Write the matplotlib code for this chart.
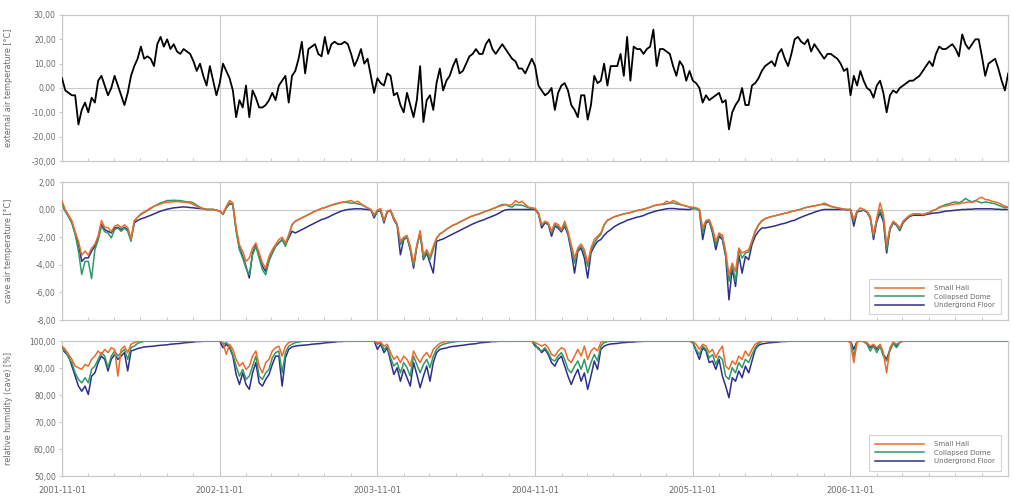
import numpy as np
import pandas as pd
import matplotlib
matplotlib.use('Agg')
import matplotlib.pyplot as plt
import matplotlib.dates as mdates
from matplotlib.ticker import FuncFormatter

# samples: 48 per year starting 2001-11-01
START = pd.Timestamp('2001-11-01')
PER_YEAR = 48

ext_temp = [
    4, -1, -2, -3, -3, -15, -9, -6, -10, -4, -6, 3, 5, 1, -3, 0, 5, 1, -3, -7, -2, 5, 9, 12,
    17, 12, 13, 12, 9, 18, 21, 17, 20, 16, 18, 15, 14, 16, 15, 14, 11, 7, 10, 5, 1, 9, 3, -3,
    2, 10, 7, 4, -1, -12, -5, -8, 1, -12, -1, -4, -8, -8, -7, -5, -2, -5, 1, 3, 5, -6, 5, 7,
    12, 19, 6, 16, 17, 18, 14, 13, 21, 14, 18, 19, 18, 18, 19, 18, 14, 9, 12, 16, 10, 12, 5, -2,
    4, 2, 1, 6, 5, -3, -2, -7, -10, -2, -7, -12, -5, 9, -14, -5, -3, -9, 2, 8, -1, 3, 5, 9,
    12, 6, 7, 10, 13, 14, 16, 14, 14, 18, 20, 16, 14, 16, 18, 16, 14, 12, 11, 8, 8, 6, 9, 12,
    9, 1, -1, -3, -2, 0, -9, -2, 1, 2, -1, -7, -9, -12, -3, -3, -13, -7, 5, 2, 3, 10, 1, 9,
    9, 9, 14, 5, 21, 3, 17, 16, 16, 14, 16, 17, 24, 9, 16, 16, 15, 14, 9, 5, 11, 9, 3, 7,
    3, 2, 0, -6, -3, -5, -4, -3, -2, -6, -5, -17, -10, -7, -5, 0, -7, -7, 1, 2, 4, 7, 9, 10,
    11, 9, 14, 16, 12, 9, 14, 20, 21, 19, 18, 20, 15, 18, 16, 14, 12, 14, 14, 13, 12, 10, 7, 8,
    -3, 5, 1, 7, 3, 0, -1, -4, 1, 3, -2, -10, -3, -1, -2, 0, 1, 2, 3, 3, 4, 5, 7, 9,
    11, 9, 14, 17, 16, 16, 17, 18, 16, 13, 22, 18, 16, 18, 20, 20, 13, 5, 10, 11, 12, 8, 3, -1, 6,
]

cave_small_hall = [
    0.6, 0.0, -0.4, -0.8, -1.6, -2.3, -3.3, -3.0, -3.3, -2.8, -2.5, -1.9, -0.8, -1.3, -1.3, -1.6,
    -1.2, -1.1, -1.3, -1.1, -1.3, -2.1, -0.8, -0.55, -0.3, -0.16, -0.02, 0.13, 0.25, 0.32, 0.42, 0.49,
    0.54, 0.56, 0.56, 0.59, 0.56, 0.54, 0.52, 0.47, 0.37, 0.25, 0.13, 0.06, 0.01, 0.01, 0.01, -0.04,
    -0.11, -0.31, 0.25, 0.66, 0.49, -1.33, -2.54, -3.02, -3.75, -3.51, -2.78, -2.42, -3.14, -3.87, -4.24, -3.39,
    -2.9, -2.54, -2.17, -2.0, -2.42, -1.81, -1.08, -0.84, -0.72, -0.6, -0.48, -0.36, -0.24, -0.11, -0.02, 0.08,
    0.15, 0.25, 0.32, 0.42, 0.47, 0.52, 0.56, 0.61, 0.66, 0.52, 0.61, 0.42, 0.27, 0.13, 0.01, -0.36,
    -0.04, 0.08, -0.79, -0.11, -0.02, -0.6, -1.04, -2.3, -2.0, -1.86, -2.66, -3.87, -2.54, -1.52, -3.27, -2.9,
    -3.39, -2.66, -2.05, -1.76, -1.62, -1.42, -1.28, -1.13, -1.04, -0.91, -0.79, -0.67, -0.55, -0.45, -0.38, -0.31,
    -0.21, -0.11, -0.04, 0.06, 0.15, 0.23, 0.3, 0.37, 0.32, 0.37, 0.66, 0.49, 0.61, 0.37, 0.18, 0.13,
    0.08, -0.24, -1.08, -0.84, -0.96, -1.57, -0.96, -1.08, -1.45, -0.84, -1.57, -2.54, -3.51, -2.78, -2.49, -2.9,
    -3.87, -2.78, -2.17, -1.93, -1.69, -1.08, -0.77, -0.65, -0.53, -0.45, -0.38, -0.31, -0.26, -0.21, -0.14, -0.07,
    -0.02, 0.03, 0.1, 0.18, 0.27, 0.35, 0.37, 0.42, 0.61, 0.49, 0.66, 0.56, 0.42, 0.32, 0.27, 0.18,
    0.18, 0.13, 0.01, -1.33, -0.79, -0.72, -1.33, -2.3, -1.69, -1.86, -3.02, -4.72, -3.87, -4.48, -2.78, -3.14,
    -3.02, -2.9, -2.25, -1.52, -1.08, -0.79, -0.65, -0.57, -0.5, -0.45, -0.38, -0.33, -0.26, -0.21, -0.14, -0.09,
    -0.02, 0.03, 0.13, 0.18, 0.23, 0.27, 0.32, 0.37, 0.47, 0.37, 0.25, 0.18, 0.13, 0.08, 0.03, 0.01,
    0.01, -0.72, -0.11, 0.13, 0.01, -0.11, -0.48, -1.81, -0.6, 0.49, -0.36, -2.54, -1.33, -0.84, -1.04, -1.33,
    -0.84, -0.6, -0.41, -0.31, -0.31, -0.31, -0.36, -0.26, -0.21, -0.07, 0.01, 0.13, 0.23, 0.27, 0.32, 0.37,
    0.42, 0.42, 0.47, 0.52, 0.56, 0.52, 0.61, 0.81, 0.9, 0.73, 0.71, 0.61, 0.56, 0.49, 0.37, 0.25, 0.18,
]

cave_collapsed_dome = [
    0.4, -0.1, -0.5, -0.96, -1.8, -3.0, -4.7, -3.75, -3.75, -5.0, -2.9, -2.2, -1.2, -1.6, -1.7, -2.05,
    -1.45, -1.33, -1.57, -1.33, -1.57, -2.3, -0.84, -0.55, -0.36, -0.21, -0.07, 0.08, 0.23, 0.37, 0.49, 0.56,
    0.66, 0.66, 0.68, 0.66, 0.66, 0.61, 0.56, 0.56, 0.49, 0.32, 0.18, 0.08, 0.01, 0.01, 0.01, -0.04,
    -0.11, -0.36, 0.13, 0.49, 0.37, -1.57, -2.9, -3.51, -4.24, -4.72, -3.27, -2.66, -3.51, -4.36, -4.72, -3.75,
    -3.14, -2.66, -2.42, -2.17, -2.66, -1.93, -1.13, -0.84, -0.72, -0.6, -0.48, -0.36, -0.24, -0.11, -0.02, 0.08,
    0.15, 0.23, 0.32, 0.37, 0.44, 0.52, 0.56, 0.52, 0.47, 0.47, 0.42, 0.37, 0.25, 0.13, 0.01, -0.48,
    -0.04, -0.11, -0.84, -0.11, -0.07, -0.65, -1.08, -2.54, -2.1, -2.0, -2.78, -4.04, -2.66, -1.69, -3.51, -3.02,
    -3.63, -2.9, -2.1, -1.76, -1.62, -1.42, -1.28, -1.13, -1.04, -0.91, -0.79, -0.67, -0.55, -0.45, -0.38, -0.31,
    -0.21, -0.11, -0.04, 0.06, 0.15, 0.27, 0.37, 0.37, 0.25, 0.18, 0.37, 0.32, 0.32, 0.23, 0.13, 0.08,
    0.08, -0.24, -1.13, -0.89, -1.04, -1.69, -1.08, -1.2, -1.52, -1.08, -1.69, -2.78, -3.87, -2.9, -2.66, -3.14,
    -4.11, -2.98, -2.42, -2.05, -1.81, -1.13, -0.79, -0.65, -0.53, -0.45, -0.38, -0.31, -0.26, -0.21, -0.14, -0.07,
    -0.02, 0.03, 0.1, 0.18, 0.27, 0.32, 0.37, 0.37, 0.42, 0.47, 0.49, 0.42, 0.37, 0.32, 0.25, 0.18,
    0.08, 0.08, -0.04, -1.69, -0.84, -0.79, -1.57, -2.54, -1.81, -2.0, -3.27, -5.2, -4.0, -5.2, -2.9, -3.51,
    -3.14, -3.07, -2.3, -1.62, -1.13, -0.84, -0.65, -0.57, -0.5, -0.45, -0.38, -0.33, -0.26, -0.21, -0.14, -0.09,
    -0.02, 0.03, 0.13, 0.18, 0.23, 0.27, 0.32, 0.37, 0.37, 0.32, 0.23, 0.18, 0.13, 0.08, 0.03, 0.01,
    0.01, -0.84, -0.11, -0.07, -0.02, -0.16, -0.55, -1.93, -0.72, 0.01, -0.6, -2.9, -1.37, -0.89, -1.08, -1.45,
    -0.89, -0.65, -0.45, -0.36, -0.31, -0.31, -0.36, -0.31, -0.21, -0.07, 0.01, 0.18, 0.27, 0.37, 0.42, 0.52,
    0.56, 0.49, 0.61, 0.81, 0.66, 0.56, 0.66, 0.56, 0.49, 0.56, 0.52, 0.47, 0.42, 0.32, 0.23, 0.13, 0.18,
]

cave_underground_floor = [
    0.32, -0.1, -0.5, -0.96, -1.7, -2.5, -3.75, -3.5, -3.5, -3.0, -2.66, -2.05, -1.08, -1.45, -1.57, -1.69,
    -1.33, -1.28, -1.45, -1.28, -1.45, -2.17, -0.96, -0.79, -0.67, -0.6, -0.5, -0.41, -0.31, -0.21, -0.11, -0.04,
    0.03, 0.08, 0.13, 0.15, 0.18, 0.2, 0.18, 0.15, 0.13, 0.1, 0.08, 0.06, 0.01, 0.01, 0.01, -0.04,
    -0.11, -0.31, 0.13, 0.42, 0.37, -1.45, -2.78, -3.39, -4.11, -4.96, -3.14, -2.54, -3.39, -4.11, -4.48, -3.63,
    -3.14, -2.66, -2.42, -2.17, -2.54, -2.05, -1.57, -1.69, -1.57, -1.45, -1.33, -1.2, -1.08, -0.96, -0.84, -0.72,
    -0.65, -0.55, -0.43, -0.31, -0.21, -0.11, -0.04, 0.01, 0.03, 0.06, 0.06, 0.06, 0.03, 0.01, -0.02, -0.6,
    -0.11, -0.11, -0.96, -0.16, -0.07, -0.72, -1.13, -3.27, -2.17, -2.0, -2.9, -4.24, -2.66, -1.69, -3.63, -3.14,
    -3.87, -4.6, -2.3, -2.2, -2.13, -2.0, -1.88, -1.76, -1.64, -1.52, -1.4, -1.28, -1.16, -1.04, -0.94, -0.84,
    -0.77, -0.67, -0.57, -0.48, -0.38, -0.26, -0.11, -0.02, 0.01, 0.01, 0.01, 0.01, 0.01, 0.01, 0.01, 0.01,
    0.01, -0.31, -1.33, -0.96, -1.08, -1.93, -1.2, -1.33, -1.62, -1.2, -1.81, -3.02, -4.6, -3.02, -2.78, -3.51,
    -4.96, -3.14, -2.66, -2.3, -2.17, -1.86, -1.62, -1.45, -1.25, -1.11, -0.99, -0.89, -0.77, -0.7, -0.62, -0.55,
    -0.5, -0.43, -0.31, -0.24, -0.16, -0.09, -0.04, 0.01, 0.06, 0.08, 0.08, 0.06, 0.03, 0.03, 0.01, 0.01,
    0.08, 0.08, -0.04, -2.17, -0.96, -0.84, -1.69, -2.9, -1.93, -2.17, -3.39, -6.54, -4.24, -5.57, -3.27, -4.6,
    -3.39, -3.63, -2.54, -1.93, -1.57, -1.33, -1.33, -1.28, -1.23, -1.18, -1.11, -1.04, -0.99, -0.91, -0.82, -0.77,
    -0.65, -0.55, -0.45, -0.36, -0.28, -0.19, -0.11, -0.04, 0.01, 0.01, 0.01, 0.01, 0.01, 0.01, 0.01, -0.02,
    0.01, -1.2, -0.16, -0.11, -0.04, -0.19, -0.6, -2.17, -0.84, -0.24, -0.84, -3.14, -1.45, -0.96, -1.13, -1.52,
    -0.96, -0.7, -0.5, -0.41, -0.41, -0.41, -0.41, -0.36, -0.31, -0.26, -0.24, -0.21, -0.16, -0.11, -0.09, -0.07,
    -0.04, -0.02, 0.01, 0.01, 0.03, 0.03, 0.06, 0.06, 0.06, 0.06, 0.06, 0.06, 0.03, 0.03, 0.01, 0.01, 0.01,
]

rh_small_hall = (
    [98.1, 96.9, 95.0, 93.2, 90.7, 90.1, 89.5, 91.3, 90.7, 93.2, 94.4, 96.3, 95.0, 96.9, 95.7, 97.5,
     96.9, 87.0, 96.9, 98.1, 95.7, 98.8, 99.4, 99.8] + [100.0] * 24
    + [100.0, 99.4, 95.0, 98.8, 96.9, 93.2, 90.7, 92.0, 89.5, 90.7, 94.4, 96.3, 90.7, 88.2, 92.0, 93.2,
       96.3, 97.5, 98.1, 94.4, 98.1, 99.4, 99.8] + [100.0] * 25
    + [99.4, 99.6, 98.1, 98.8, 95.7, 93.2, 94.4, 92.0, 94.4, 93.2, 90.7, 96.3, 93.8, 92.0, 94.4, 95.7,
       93.8, 96.9, 98.1, 99.1, 99.6, 99.9] + [100.0] * 26
    + [99.4, 98.8, 98.1, 98.8, 97.5, 95.0, 94.4, 96.3, 97.5, 96.9, 93.2, 92.0, 94.4, 96.9, 94.4, 98.1,
       93.2, 96.3, 97.5, 96.3, 99.4, 99.9] + [100.0] * 26
    + [99.9, 98.8, 96.9, 98.8, 98.1, 95.7, 96.9, 93.8, 96.3, 98.1, 90.7, 89.5, 92.6, 91.3, 94.4, 93.2,
       96.3, 94.4, 96.9, 98.8, 99.6] + [100.0] * 27
    + [99.4, 92.0, 99.6, 100.0, 100.0, 99.4, 98.1, 98.8, 97.5, 98.8, 95.7, 88.2, 97.5, 99.6, 98.8, 99.6]
    + [100.0] * 33
)

rh_collapsed_dome = (
    [97.5, 96.3, 93.8, 92.0, 88.2, 85.8, 84.5, 86.4, 84.5, 89.5, 90.7, 93.2, 95.7, 94.4, 90.1, 94.4,
     96.3, 94.4, 95.7, 96.9, 93.2, 97.5, 98.1, 99.1, 99.6, 99.9] + [100.0] * 22
    + [100.0, 98.8, 99.4, 98.1, 95.0, 90.7, 87.0, 89.5, 85.8, 87.0, 90.7, 94.4, 87.0, 85.8, 88.2, 89.5,
       93.8, 95.7, 96.3, 88.2, 95.7, 98.1, 98.8, 99.4, 99.6, 99.9] + [100.0] * 22
    + [98.8, 99.4, 96.9, 98.1, 93.8, 90.7, 92.0, 88.2, 92.0, 90.1, 87.0, 94.4, 91.3, 88.2, 91.3, 93.2,
       90.1, 94.4, 96.9, 98.1, 98.8, 99.1, 99.4, 99.6, 99.8, 99.9] + [100.0] * 22
    + [98.8, 96.9, 96.3, 97.5, 95.7, 93.2, 92.6, 94.4, 95.7, 93.2, 89.5, 88.2, 90.7, 92.6, 89.5, 93.2,
       88.2, 92.0, 95.0, 92.6, 98.1, 99.4, 99.8, 99.9] + [100.0] * 24
    + [99.6, 96.9, 95.0, 98.1, 96.9, 93.8, 95.0, 91.3, 94.4, 93.2, 87.0, 85.8, 90.1, 88.2, 92.0, 90.1,
       93.2, 92.0, 95.0, 97.5, 99.1, 99.8] + [100.0] * 26
    + [100.0, 94.4, 99.9, 100.0, 99.8, 98.8, 96.3, 98.1, 95.7, 98.1, 94.4, 92.6, 96.3, 99.1, 97.5, 99.4,
       99.9] + [100.0] * 32
)

rh_underground_floor = (
    [96.9, 95.7, 94.4, 90.7, 87.0, 83.3, 81.4, 83.3, 80.2, 87.0, 88.2, 92.0, 94.4, 93.2, 88.9, 93.2,
     95.0, 93.2, 94.4, 95.7, 88.9, 96.3, 96.7, 97.2, 97.5, 97.8, 97.9, 98.0, 98.1, 98.3, 98.4, 98.5,
     98.6, 98.8, 98.9, 99.0, 99.1, 99.3, 99.4, 99.5, 99.6, 99.8, 99.8, 99.9, 99.9, 100.0, 100.0, 100.0]
    + [99.9, 97.5, 98.8, 97.5, 94.4, 87.6, 83.9, 88.2, 83.9, 82.1, 88.2, 92.0, 84.5, 83.3, 85.8, 87.6,
       91.3, 94.4, 94.4, 83.3, 93.8, 96.9, 97.8, 98.1, 98.3, 98.4, 98.5, 98.6, 98.8, 98.9, 99.0, 99.1,
       99.3, 99.4, 99.5, 99.6, 99.8, 99.8, 99.9, 99.9, 99.9, 99.9, 100.0, 100.0, 100.0, 100.0, 100.0, 100.0]
    + [96.9, 98.8, 95.7, 97.5, 92.6, 87.6, 90.1, 85.1, 89.5, 86.4, 83.3, 92.0, 87.6, 82.7, 87.0, 90.7,
       85.1, 92.0, 95.7, 96.9, 97.2, 97.4, 97.8, 98.0, 98.1, 98.3, 98.4, 98.6, 98.8, 98.9, 99.0, 99.3,
       99.4, 99.5, 99.6, 99.8, 99.8, 99.9, 99.9, 99.9, 99.9, 99.9, 99.9, 100.0, 100.0, 100.0, 100.0, 100.0]
    + [98.1, 97.5, 95.7, 96.9, 95.0, 92.0, 90.7, 93.2, 94.4, 90.7, 87.0, 83.9, 87.0, 89.5, 85.1, 88.2,
       82.1, 87.0, 92.6, 89.5, 96.9, 98.1, 98.6, 98.9, 99.0, 99.1, 99.3, 99.4, 99.5, 99.6, 99.6, 99.8,
       99.8, 99.9, 99.9, 99.9] + [100.0] * 12
    + [99.4, 96.3, 93.2, 97.5, 96.3, 92.0, 92.6, 89.5, 93.2, 87.0, 83.3, 79.0, 86.4, 85.1, 88.9, 86.4,
       90.7, 88.2, 92.6, 96.9, 98.4, 98.9, 99.1, 99.3, 99.4, 99.5, 99.6, 99.8, 99.8, 99.9, 99.9]
    + [100.0] * 17
    + [100.0, 96.9, 99.9, 100.0, 99.9, 99.1, 97.5, 98.4, 96.9, 98.4, 95.0, 93.2, 96.9, 99.4, 98.1, 99.6,
       100.0] + [100.0] * 32
)

year_ticks = ['2001-11-01', '2002-11-01', '2003-11-01', '2004-11-01', '2005-11-01', '2006-11-01']
series_names = ['Small Hall', 'Collapsed Dome', 'Undergrond Floor']
series_colors = ['#ec6a2c', '#2f9a66', '#2d2f8a']

GRID = '#c9c9c9'
TXT = '#6a6a6a'


def sample_dates(n):
    days = np.arange(n) * 365.25 / PER_YEAR
    return START + pd.to_timedelta(days, unit='D')


def comma_fmt(v, pos):
    return f'{v:.2f}'.replace('.', ',')


fig = plt.figure(figsize=(10.15, 4.96), dpi=100)
left, width = 0.0611, 0.932
ax1 = fig.add_axes([left, 0.6754, width, 0.2944])
ax2 = fig.add_axes([left, 0.3548, width, 0.2782], sharex=ax1)
ax3 = fig.add_axes([left, 0.0403, width, 0.2722], sharex=ax1)

tick_dates = pd.to_datetime(year_ticks)
xmin, xmax = START, pd.Timestamp('2007-11-01')

for ax in (ax1, ax2, ax3):
    for s in ax.spines.values():
        s.set_color(GRID)
        s.set_linewidth(0.9)
    ax.set_xlim(xmin, xmax)
    ax.set_xticks(tick_dates)
    ax.xaxis.set_minor_locator(mdates.MonthLocator(bymonth=[1, 3, 5, 7, 9, 11]))
    ax.grid(axis='x', which='major', color=GRID, lw=0.8)
    ax.tick_params(axis='both', which='both', colors=GRID, labelcolor=TXT, labelsize=5.5,
                   length=2.5, width=0.7, pad=2)
    ax.tick_params(axis='x', which='major', length=0)
    ax.tick_params(axis='x', which='minor', length=2, direction='in')
    ax.yaxis.set_major_formatter(FuncFormatter(comma_fmt))
    ax.set_axisbelow(True)

# external air temperature
ax1.plot(sample_dates(len(ext_temp)), ext_temp, color='black', lw=1.3, zorder=3)
ax1.axhline(0, color=GRID, lw=0.8, zorder=1)
ax1.set_ylim(-30, 30)
ax1.set_yticks(np.arange(-30, 31, 10))
ax1.set_ylabel('external air temperature [°C]', fontsize=5.8, color=TXT)

# cave air temperature
cave = [cave_small_hall, cave_collapsed_dome, cave_underground_floor]
for vals, name, col, z in zip(cave, series_names, series_colors, [4, 3, 2]):
    ax2.plot(sample_dates(len(vals)), vals, color=col, lw=1.1, label=name, zorder=z)
ax2.axhline(0, color=GRID, lw=0.8, zorder=1)
ax2.set_ylim(-8, 2)
ax2.set_yticks(np.arange(-8, 2.1, 2))
ax2.set_ylabel('cave air temperature [°C]', fontsize=5.8, color=TXT)

# relative humidity
rh = [rh_small_hall, rh_collapsed_dome, rh_underground_floor]
for vals, name, col, z in zip(rh, series_names, series_colors, [4, 3, 2]):
    ax3.plot(sample_dates(len(vals)), vals, color=col, lw=1.1, label=name, zorder=z)
ax3.set_ylim(50, 100)
ax3.set_yticks(np.arange(50, 101, 10))
ax3.set_ylabel('relative humidity (cave) [%]', fontsize=5.8, color=TXT)

for ax in (ax1, ax2):
    plt.setp(ax.get_xticklabels(), visible=False)
ax3.set_xticklabels(year_ticks, fontsize=6, color=TXT)
ax3.tick_params(axis='x', which='major', pad=7)

for ax in (ax1, ax2, ax3):
    ax.yaxis.set_label_coords(-0.052, 0.5)

for ax in (ax2, ax3):
    leg = ax.legend(loc='lower right', bbox_to_anchor=(0.993, 0.04), fontsize=5, frameon=True,
                    fancybox=False, edgecolor=GRID, handlelength=7, borderpad=0.9,
                    labelspacing=0.35, handletextpad=1.5, borderaxespad=0)
    leg.get_frame().set_linewidth(0.8)
    for t in leg.get_texts():
        t.set_color(TXT)

fig.savefig('out.png', dpi=100)
